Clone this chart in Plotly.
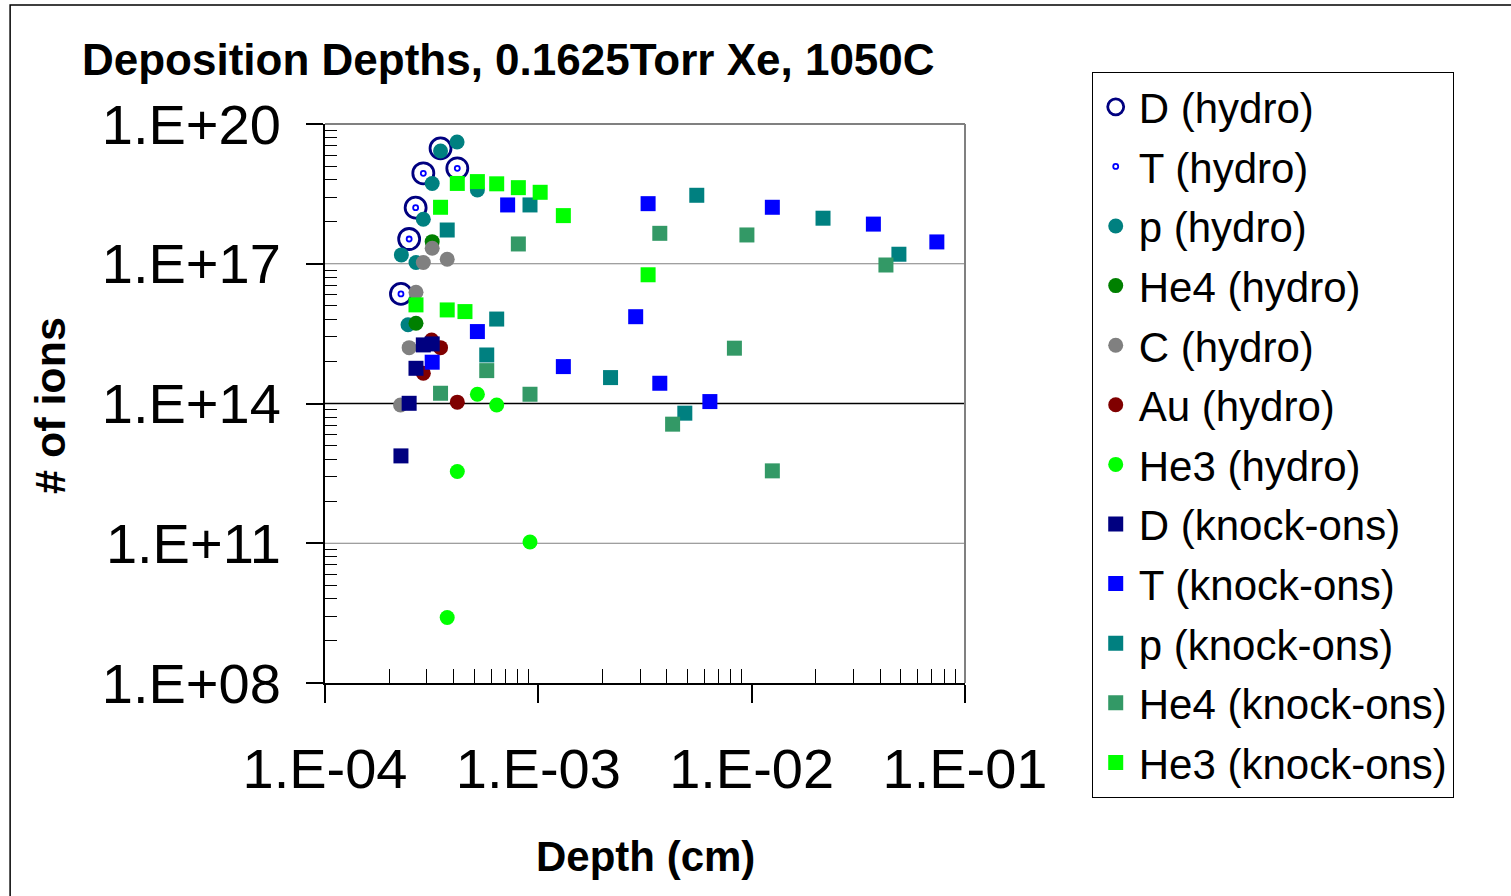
import plotly.graph_objects as go

# ---- data (depth in cm, number of ions) ----
d_hydro_x = [3.48e-4, 2.89e-4, 4.17e-4, 2.66e-4, 2.48e-4, 2.27e-4]
d_hydro_y = [3.0e19, 8.75e18, 1.12e19, 1.6e18, 3.4e17, 2.25e16]
t_hydro_x = [3.48e-4, 2.89e-4, 4.17e-4, 2.66e-4, 2.48e-4, 2.27e-4]
t_hydro_y = [3.0e19, 8.75e18, 1.12e19, 1.6e18, 3.4e17, 2.25e16]
p_hydro_x = [4.16e-4, 3.48e-4, 3.18e-4, 5.18e-4, 2.89e-4, 2.28e-4, 2.67e-4, 2.45e-4]
p_hydro_y = [4.1e19, 2.64e19, 5.3e18, 3.84e18, 9.0e17, 1.55e17, 1.06e17, 4.9e15]
he4_hydro_x = [3.18e-4, 2.67e-4]
he4_hydro_y = [2.98e17, 5.3e15]
c_hydro_x = [3.18e-4, 2.89e-4, 3.74e-4, 2.67e-4, 2.48e-4, 2.26e-4]
c_hydro_y = [2.15e17, 1.06e17, 1.25e17, 2.44e16, 1.58e15, 9.3e13]
au_hydro_x = [3.16e-4, 3.48e-4, 2.89e-4, 4.17e-4]
au_hydro_y = [2.3e15, 1.58e15, 4.47e14, 1.07e14]
he3_hydro_x = [5.18e-4, 6.38e-4, 4.17e-4, 9.14e-4, 3.74e-4]
he3_hydro_y = [1.58e14, 9.3e13, 3.46e12, 1.06e11, 2.55e9]
d_ko_x = [2.89e-4, 3.18e-4, 2.67e-4, 2.48e-4, 2.27e-4]
d_ko_y = [1.81e15, 1.9e15, 5.7e14, 1.01e14, 7.5e12]
t_ko_x = [5.18e-4, 3.18e-4, 1.31e-3, 7.18e-4, 3.27e-3, 1.25e-2, 3.72e-2, 7.38e-2, 2.86e-3, 3.71e-3, 6.37e-3]
t_ko_y = [3.5e15, 7.7e14, 6.2e14, 1.83e18, 1.95e18, 1.63e18, 7.1e17, 2.94e17, 7.3e15, 2.72e14, 1.1e14]
p_ko_x = [3.74e-4, 9.14e-4, 5.53e-3, 2.16e-2, 4.9e-2, 6.38e-4, 5.73e-4, 2.18e-3, 4.86e-3]
p_ko_y = [5.3e17, 1.83e18, 2.95e18, 9.5e17, 1.6e17, 6.5e15, 1.1e15, 3.6e14, 6.2e13]
he4_ko_x = [8.06e-4, 3.71e-3, 9.5e-3, 4.26e-2, 5.73e-4, 3.48e-4, 9.14e-4, 8.3e-3, 4.26e-3, 1.25e-2]
he4_ko_y = [2.66e17, 4.5e17, 4.15e17, 9.4e16, 5.08e14, 1.66e14, 1.58e14, 1.54e15, 3.6e13, 3.58e12]
he3_ko_x = [4.17e-4, 5.18e-4, 6.38e-4, 8.06e-4, 1.02e-3, 1.31e-3, 3.48e-4, 3.27e-3, 2.67e-4, 3.74e-4, 4.53e-4]
he3_ko_y = [5.3e18, 5.8e18, 5.2e18, 4.3e18, 3.42e18, 1.08e18, 1.63e18, 5.8e16, 1.31e16, 1.02e16, 9.4e15]

x_tickvals = [1e-4, 1e-3, 1e-2, 1e-1]
x_ticktext = ["1.E-04", "1.E-03", "1.E-02", "1.E-01"]
y_tickvals = [1e8, 1e11, 1e14, 1e17, 1e20]
y_ticktext = ["1.E+08", "1.E+11", "1.E+14", "1.E+17", "1.E+20"]

FONT = "Liberation Sans, Arial, sans-serif"

series = [
    ("D (hydro)", d_hydro_x, d_hydro_y, "circle-open", "#000080", 21, 2.8),
    ("T (hydro)", t_hydro_x, t_hydro_y, "circle-open", "#0000FF", 5, 1.8),
    ("p (hydro)", p_hydro_x, p_hydro_y, "circle", "#008080", 15, 0),
    ("He4 (hydro)", he4_hydro_x, he4_hydro_y, "circle", "#008000", 15, 0),
    ("C (hydro)", c_hydro_x, c_hydro_y, "circle", "#808080", 15, 0),
    ("Au (hydro)", au_hydro_x, au_hydro_y, "circle", "#800000", 15, 0),
    ("He3 (hydro)", he3_hydro_x, he3_hydro_y, "circle", "#00FF00", 15, 0),
    ("D (knock-ons)", d_ko_x, d_ko_y, "square", "#000080", 15, 0),
    ("T (knock-ons)", t_ko_x, t_ko_y, "square", "#0000FF", 15, 0),
    ("p (knock-ons)", p_ko_x, p_ko_y, "square", "#008080", 15, 0),
    ("He4 (knock-ons)", he4_ko_x, he4_ko_y, "square", "#339966", 15, 0),
    ("He3 (knock-ons)", he3_ko_x, he3_ko_y, "square", "#00FF00", 15, 0),
]

fig = go.Figure()
for i, (name, xs, ys, sym, col, size, lw) in enumerate(series):
    if sym.endswith("open"):
        marker = dict(symbol=sym, size=size, color=col, line=dict(color=col, width=lw))
    else:
        marker = dict(symbol=sym, size=size, color=col, line=dict(width=0))
    fig.add_trace(go.Scatter(x=xs, y=ys, mode="markers", name=name,
                             legendgroup="g%d" % i, marker=marker))

minor_x = [k * 10.0 ** d for d in (-4, -3, -2) for k in range(2, 10)]
minor_y = [b * k ** 3 for b in (1e8, 1e11, 1e14, 1e17) for k in range(2, 10)]


def hline(yp, color, width):
    return dict(type="line", xref="paper", yref="paper", x0=0, x1=1, y0=yp, y1=yp,
                line=dict(color=color, width=width), layer="below")


fig.update_layout(
    width=1511, height=896,
    margin=dict(l=325, r=546, t=124, b=213),
    paper_bgcolor="white", plot_bgcolor="white",
    font=dict(family=FONT, color="black"),
    showlegend=True,
    legend=dict(
        x=1.198, y=1.093, xanchor="left", yanchor="top",
        bordercolor="black", borderwidth=1, bgcolor="white",
        font=dict(family=FONT, size=42, color="black"),
        traceorder="grouped", tracegroupgap=2, maxheight=1.0,
        itemwidth=36,
    ),
    xaxis=dict(
        type="log", range=[-4, -1],
        tickmode="array", tickvals=x_tickvals, ticktext=x_ticktext,
        tickfont=dict(family=FONT, size=56, color="black"),
        ticks="outside", ticklen=18, tickwidth=1.5, tickcolor="black",
        ticklabelstandoff=18,
        showline=True, linecolor="black", linewidth=1.5,
        showgrid=False, zeroline=False,
        minor=dict(tickmode="array", tickvals=minor_x, ticks="inside",
                   ticklen=14, tickwidth=1, tickcolor="black", showgrid=False),
    ),
    yaxis=dict(
        type="log", range=[8, 20],
        tickmode="array", tickvals=y_tickvals, ticktext=y_ticktext,
        tickfont=dict(family=FONT, size=56, color="black"),
        ticks="outside", ticklen=17, tickwidth=1.5, tickcolor="black",
        ticklabelstandoff=14,
        showline=True, linecolor="black", linewidth=2,
        showgrid=False, zeroline=False,
        minor=dict(tickmode="array", tickvals=minor_y, ticks="inside",
                   ticklen=12, tickwidth=1, tickcolor="black", showgrid=False),
    ),
    shapes=[
        # gridlines at 1E+11, 1E+14, 1E+17 (paper positions on the 8..20 log range)
        hline(0.25, "#808080", 1),
        hline(0.5, "black", 1.5),
        hline(0.75, "#808080", 1),
        # gray top and right border of plot area
        hline(1.0, "#808080", 2),
        dict(type="line", xref="paper", yref="paper", x0=1, x1=1, y0=0, y1=1,
             line=dict(color="#808080", width=2), layer="below"),
        # outer chart frame
        dict(type="rect", xref="paper", yref="paper", x0=-0.492, x1=1.9,
             y0=-0.45, y1=1.2129, line=dict(color="black", width=1.5),
             fillcolor="rgba(0,0,0,0)"),
    ],
    annotations=[
        dict(text="<b>Deposition Depths, 0.1625Torr Xe, 1050C</b>",
             xref="paper", yref="paper", x=-0.383, y=1.1145,
             xanchor="left", yanchor="middle", showarrow=False,
             font=dict(family=FONT, size=44, color="black")),
        dict(text="<b>Depth (cm)</b>", xref="paper", yref="paper",
             x=0.5, y=-0.311, xanchor="center", yanchor="middle",
             showarrow=False, font=dict(family=FONT, size=42, color="black")),
        dict(text="<b># of ions</b>", xref="paper", yref="paper",
             x=-0.43, y=0.497, xanchor="center", yanchor="middle",
             textangle=-90, showarrow=False,
             font=dict(family=FONT, size=43, color="black")),
    ],
)

fig.write_html("out.html", config={"displayModeBar": False},
               post_script="document.body.style.margin='0';")
